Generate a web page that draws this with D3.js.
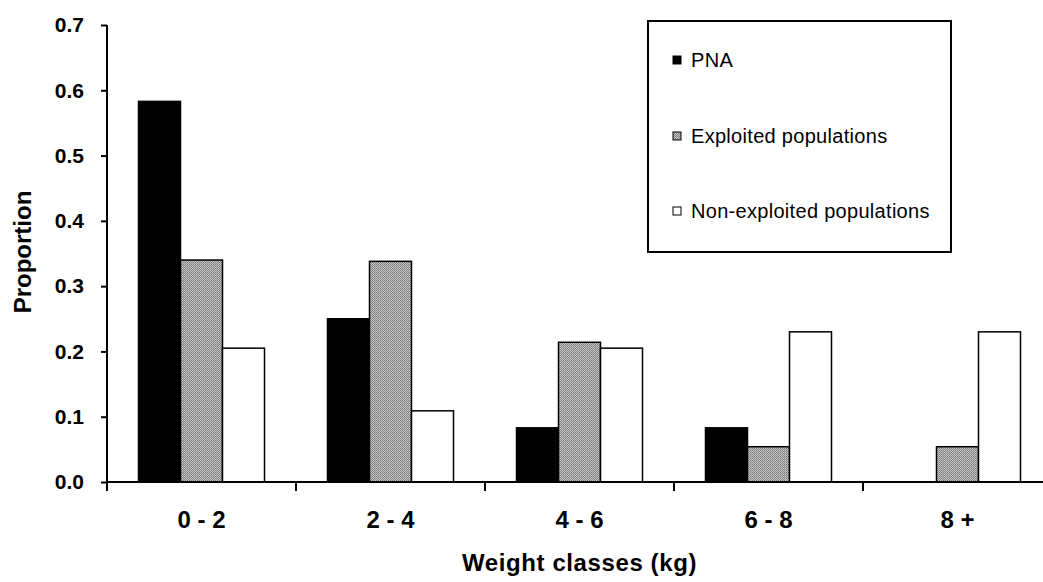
<!DOCTYPE html>
<html>
<head>
<meta charset="utf-8">
<script src="https://cdn.jsdelivr.net/npm/d3@7/dist/d3.min.js"></script>
<style>
  html, body { margin: 0; padding: 0; background: #fff; }
  svg { display: block; font-family: "Liberation Sans", Arial, sans-serif; }
</style>
</head>
<body>
<svg id="chart" width="1043" height="582"></svg>
<script>
// Weight classes and the share of individuals in each, per population type
const categories = ["0 - 2", "2 - 4", "4 - 6", "6 - 8", "8 +"];
const seriesNames = ["PNA", "Exploited populations", "Non-exploited populations"];
const pna = [0.583, 0.25, 0.083, 0.083, 0];
const exploited = [0.34, 0.338, 0.214, 0.054, 0.054];
const nonExploited = [0.205, 0.109, 0.205, 0.23, 0.23];
const yTicks = [0, 0.1, 0.2, 0.3, 0.4, 0.5, 0.6, 0.7];

const seriesValues = [pna, exploited, nonExploited];

const svg = d3.select("#chart");
const plotLeft = 107, plotRight = 1052, plotTop = 25, plotBottom = 482;

// Grey dithered fill for the exploited series
const defs = svg.append("defs");
const pat = defs.append("pattern")
  .attr("id", "dither").attr("patternUnits", "userSpaceOnUse")
  .attr("width", 2).attr("height", 2);
pat.append("rect").attr("width", 2).attr("height", 2).attr("fill", "#c4c4c4");
pat.append("rect").attr("x", 0).attr("y", 0).attr("width", 1).attr("height", 1).attr("fill", "#7a7a7a");
pat.append("rect").attr("x", 1).attr("y", 1).attr("width", 1).attr("height", 1).attr("fill", "#8a8a8a");

const fills = ["#000", "url(#dither)", "#fff"];

const x0 = d3.scaleBand().domain(categories).range([plotLeft, plotRight]).paddingInner(0).paddingOuter(0);
const x1 = d3.scaleBand().domain(d3.range(seriesNames.length)).range([0, x0.bandwidth()]).paddingInner(0).paddingOuter(0.75);
const y = d3.scaleLinear().domain([0, 0.7]).range([plotBottom, plotTop]);

// Bars
const groups = svg.append("g").selectAll("g")
  .data(categories).join("g")
  .attr("transform", d => `translate(${x0(d)},0)`);

groups.selectAll("rect")
  .data((c, i) => seriesValues.map((s, k) => ({ k, v: s[i] })).filter(d => d.v > 0))
  .join("rect")
  .attr("x", d => x1(d.k))
  .attr("y", d => y(d.v))
  .attr("width", x1.bandwidth())
  .attr("height", d => y(0) - y(d.v))
  .attr("fill", d => fills[d.k])
  .attr("stroke", "#000")
  .attr("stroke-width", 1.5);

// Y axis
const yAxis = svg.append("g")
  .attr("transform", `translate(${plotLeft},0)`)
  .call(d3.axisLeft(y).tickValues(yTicks).tickFormat(d3.format(".1f")).tickSize(6).tickPadding(17));
yAxis.select(".domain").attr("stroke-width", 2).attr("d", `M0,${plotBottom}V${plotTop}`);
yAxis.selectAll(".tick line").attr("stroke-width", 2);
yAxis.selectAll("text").attr("font-size", 21).attr("font-weight", "bold").attr("fill", "#000");

// X axis: baseline, boundary ticks and centred class labels
svg.append("line")
  .attr("x1", plotLeft).attr("x2", 1043).attr("y1", plotBottom).attr("y2", plotBottom)
  .attr("stroke", "#000").attr("stroke-width", 2);

const bounds = categories.map(c => x0(c)).concat([x0(categories[categories.length - 1]) + x0.bandwidth()]);
svg.append("g").selectAll("line")
  .data(bounds).join("line")
  .attr("x1", d => d).attr("x2", d => d)
  .attr("y1", plotBottom).attr("y2", plotBottom + 9)
  .attr("stroke", "#000").attr("stroke-width", 2);

const xAxis = svg.append("g")
  .attr("transform", `translate(0,${plotBottom})`)
  .call(d3.axisBottom(x0).tickSize(0).tickPadding(29));
xAxis.select(".domain").remove();
xAxis.selectAll("text").attr("font-size", 24).attr("font-weight", "bold").attr("fill", "#000");

// Axis titles
svg.append("text")
  .attr("x", (plotLeft + plotRight) / 2).attr("y", 571)
  .attr("text-anchor", "middle")
  .attr("font-size", 24).attr("font-weight", "bold").attr("letter-spacing", 0.6)
  .text("Weight classes (kg)");

svg.append("text")
  .attr("transform", "translate(31,252) rotate(-90)")
  .attr("text-anchor", "middle")
  .attr("font-size", 24).attr("font-weight", "bold")
  .text("Proportion");

// Legend
const legend = svg.append("g");
legend.append("rect")
  .attr("x", 648).attr("y", 21).attr("width", 303).attr("height", 231)
  .attr("fill", "#fff").attr("stroke", "#000").attr("stroke-width", 2);

const legendY = [60, 136, 211];
const items = legend.selectAll("g.item")
  .data(seriesNames).join("g").attr("class", "item")
  .attr("transform", (d, i) => `translate(673,${legendY[i]})`);
items.append("rect")
  .attr("x", 0).attr("y", -4).attr("width", 8).attr("height", 8)
  .attr("fill", (d, i) => fills[i]).attr("stroke", "#000").attr("stroke-width", 1);
items.append("text")
  .attr("x", 18).attr("y", 7)
  .attr("font-size", 20).attr("letter-spacing", 0.3)
  .text(d => d);
</script>
</body>
</html>
